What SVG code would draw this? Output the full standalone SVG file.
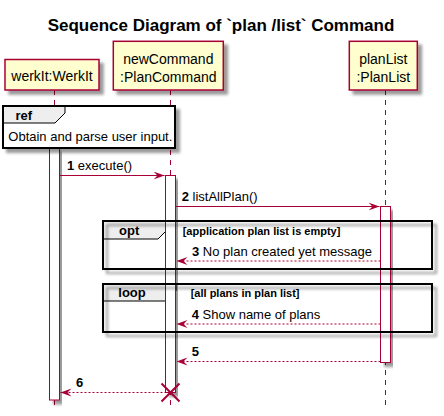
<svg xmlns="http://www.w3.org/2000/svg" width="444" height="416" viewBox="0 0 444 416">
<defs>
<filter id="sh" x="-10%" y="-10%" width="130%" height="140%">
<feGaussianBlur in="SourceAlpha" stdDeviation="1.5" result="b"/>
<feOffset in="b" dx="4" dy="4" result="o"/>
<feComponentTransfer in="o" result="s"><feFuncA type="linear" slope="0.4"/></feComponentTransfer>
<feMerge><feMergeNode in="s"/><feMergeNode in="SourceGraphic"/></feMerge>
</filter>
<marker id="ah" viewBox="0 0 12 10" refX="11" refY="5" markerWidth="12" markerHeight="10" markerUnits="userSpaceOnUse" orient="auto">
<path d="M0,1 L11,5 L0,9 L4,5 Z" fill="#A80036"/>
</marker>
</defs>
<style>
text{font-family:"Liberation Sans",Arial,sans-serif;fill:#000}
.pt{font-size:14px;text-anchor:middle}
.pbox{fill:#FEFECE;stroke:#A80036;stroke-width:1.5}
.life{stroke:#A80036;stroke-width:1;stroke-dasharray:5,5;fill:none}
.act{fill:#FFFFFF;stroke:#A80036;stroke-width:1}
.frame{fill:none;stroke:#000;stroke-width:2}
.tab{fill:#EEEEEE;stroke:#000;stroke-width:1}
.msg{stroke:#A80036;stroke-width:1;fill:none;marker-end:url(#ah)}
.dash{stroke-dasharray:2,2}
.mt{font-size:13px}
.b{font-weight:bold}
.g{font-size:11px;font-weight:bold}
</style>
<rect width="444" height="416" fill="#FFFFFF"/>
<text x="221" y="31" style="font-size:17px;font-weight:bold;text-anchor:middle">Sequence Diagram of `plan /list` Command</text>

<g id="lifelines">
<line class="life" x1="54.5" y1="90" x2="54.5" y2="410"/>
<line class="life" x1="170.5" y1="90" x2="170.5" y2="410"/>
<line class="life" x1="385.5" y1="90" x2="385.5" y2="410"/>
</g>

<g id="werkIt">
<rect class="pbox" x="5" y="59.5" width="94" height="30.5" filter="url(#sh)"/>
<text class="pt" x="52" y="81">werkIt:WerkIt</text>
</g>
<g id="newCommand">
<rect class="pbox" x="113.3" y="41.3" width="110" height="48.7" filter="url(#sh)"/>
<text class="pt" x="168.3" y="64">newCommand</text>
<text class="pt" x="168.3" y="82">:PlanCommand</text>
</g>
<g id="planList">
<rect class="pbox" x="349.3" y="41.3" width="68" height="48.7" filter="url(#sh)"/>
<text class="pt" x="383.3" y="64">planList</text>
<text class="pt" x="383.3" y="82">:PlanList</text>
</g>

<g id="frame-tabs">
<polygon class="tab" points="103,221 168,221 168,229 158,239 103,239"/>
<polygon class="tab" points="103,284 176,284 176,291 166,301 103,301"/>
</g>

<g id="activations">
<rect class="act" x="49.5" y="148" width="10" height="252" filter="url(#sh)"/>
<rect class="act" x="165.5" y="175.5" width="10" height="217" filter="url(#sh)"/>
<rect class="act" x="380.5" y="206.5" width="10" height="156" filter="url(#sh)"/>
</g>

<g id="ref">
<rect x="3" y="106" width="172" height="42" fill="#FFFFFF" stroke="#000" stroke-width="2" filter="url(#sh)"/>
<polygon class="tab" points="3,106 65,106 65,113 55,123 3,123"/>
<rect class="frame" x="3" y="106" width="172" height="42"/>
<text class="mt b" x="15.5" y="120">ref</text>
<text class="mt" x="8.3" y="140.7">Obtain and parse user input.</text>
</g>

<g id="opt">
<rect class="frame" x="103" y="221" width="329" height="48" filter="url(#sh)"/>
<text class="mt b" x="119" y="235">opt</text>
<text class="g" x="182.7" y="235">[application plan list is empty]</text>
</g>
<g id="loop">
<rect class="frame" x="103" y="284" width="329" height="48" filter="url(#sh)"/>
<text class="mt b" x="118.3" y="297.3">loop</text>
<text class="g" x="190.7" y="297">[all plans in plan list]</text>
</g>

<g id="connectors">
<line class="msg" x1="60" y1="175.5" x2="164.5" y2="175.5"/>
<text class="mt" x="67" y="170"><tspan class="b">1</tspan> execute()</text>
<line class="msg" x1="175.5" y1="206.5" x2="379.5" y2="206.5"/>
<text class="mt" x="181.7" y="200.5"><tspan class="b">2</tspan> listAllPlan()</text>
<line class="msg dash" x1="380.5" y1="261" x2="176.5" y2="261"/>
<text class="mt" x="192" y="256"><tspan class="b">3</tspan> No plan created yet message</text>
<line class="msg dash" x1="380.5" y1="324" x2="176.5" y2="324"/>
<text class="mt" x="191.7" y="319"><tspan class="b">4</tspan> Show name of plans</text>
<line class="msg dash" x1="380.5" y1="361.5" x2="176.5" y2="361.5"/>
<text class="mt b" x="191.7" y="356">5</text>
<line class="msg dash" x1="170.5" y1="392.5" x2="60.5" y2="392.5"/>
<text class="mt b" x="76" y="387">6</text>
<path d="M161.5,383.5 L179.5,401.5 M179.5,383.5 L161.5,401.5" stroke="#A80036" stroke-width="2" fill="none"/>
</g>
</svg>
